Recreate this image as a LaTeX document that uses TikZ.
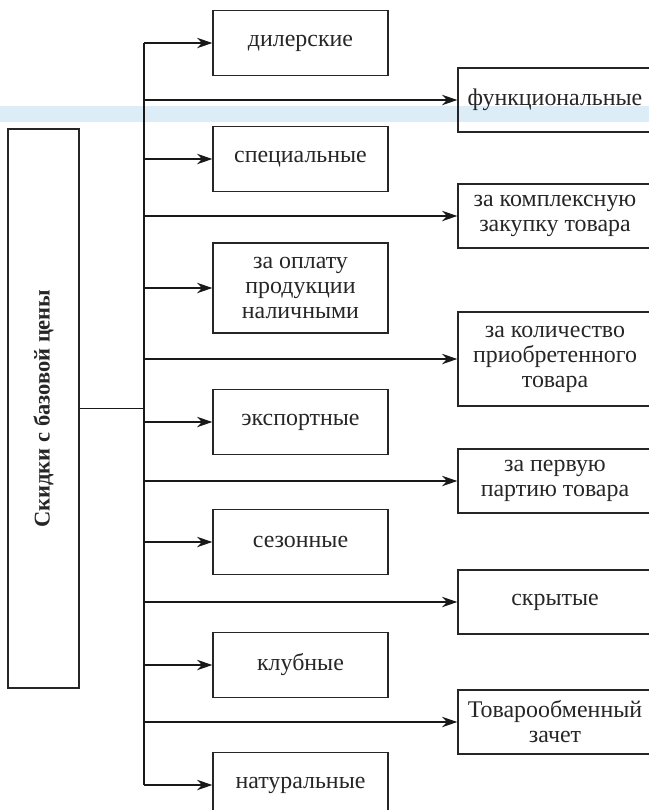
\documentclass[tikz,border=0pt]{standalone}
\usepackage{fontspec}
\setmainfont{Liberation Serif}
\usetikzlibrary{arrows.meta}

\definecolor{wmblue}{HTML}{DCEDF7}

\begin{document}
\begin{tikzpicture}[
    kind/.style={draw=black!85, line width=1pt, align=center, inner sep=0pt,
      text=black!85, font=\fontsize{17}{17.8}\selectfont},
    leftkind/.style={kind, minimum width=4.375cm, minimum height=1.625cm},
    rightkind/.style={kind, minimum width=4.85cm, minimum height=1.6cm},
    branch/.style={line width=0.9pt, draw=black!90,
      -{Stealth[length=0.38cm, width=0.26cm, inset=0.12cm]}}
  ]

  \useasboundingbox (0,0) rectangle (16.225,-20.25);
  \fill[wmblue] (0,-2.65) rectangle (16.225,-3.05);

  % root box, text runs upwards
  \node[kind, rotate=90, minimum width=13.975cm, minimum height=1.775cm,
    font=\fontsize{16}{17}\selectfont\bfseries] (base) at (1.0875,-10.2125)
    {Скидки с базовой цены};

  \coordinate (trunk) at (3.6,0);

  % left column
  \node[leftkind] (dil) at (7.5125,-1.075) {дилерские};
  \node[leftkind] (spec) at (7.5125,-3.975) {специальные};
  \node[leftkind, minimum height=2.25cm] (cash) at (7.5125,-7.2) {за оплату\\продукции\\наличными};
  \node[leftkind] (exp) at (7.5125,-10.55) {экспортные};
  \node[leftkind] (season) at (7.5125,-13.55) {сезонные};
  \node[leftkind] (club) at (7.5125,-16.625) {клубные};
  \node[leftkind] (nat) at (7.5125,-19.625) {натуральные};

  % right column
  \node[rightkind] (func) at (13.875,-2.5) {функциональные};
  \node[rightkind] (complex) at (13.875,-5.4) {за комплексную\\закупку товара};
  \node[rightkind, minimum height=2.35cm] (qty) at (13.875,-8.975) {за количество\\приобретенного\\товара};
  \node[rightkind] (first) at (13.875,-12.025) {за первую\\партию товара};
  \node[rightkind] (hidden) at (13.875,-15.05) {скрытые};
  \node[rightkind] (barter) at (13.875,-18.05) {Товарообменный\\зачет};

  \draw[line width=0.9pt, black!90] (base.south) -- (trunk |- base.south);
  \draw[line width=0.9pt, black!90] (trunk |- dil.west) -- (trunk |- nat.west);

  \draw[branch] (trunk |- dil.west) -- (dil.west);
  \draw[branch] (trunk |- spec.west) -- (spec.west);
  \draw[branch] (trunk |- cash.west) -- (cash.west);
  \draw[branch] (trunk |- exp.west) -- (exp.west);
  \draw[branch] (trunk |- season.west) -- (season.west);
  \draw[branch] (trunk |- club.west) -- (club.west);
  \draw[branch] (trunk |- nat.west) -- (nat.west);

  \draw[branch] (trunk |- func.west) -- (func.west);
  \draw[branch] (trunk |- complex.west) -- (complex.west);
  \draw[branch] (trunk |- qty.west) -- (qty.west);
  \draw[branch] (trunk |- first.west) -- (first.west);
  \draw[branch] (trunk |- hidden.west) -- (hidden.west);
  \draw[branch] (trunk |- barter.west) -- (barter.west);

\end{tikzpicture}
\end{document}
